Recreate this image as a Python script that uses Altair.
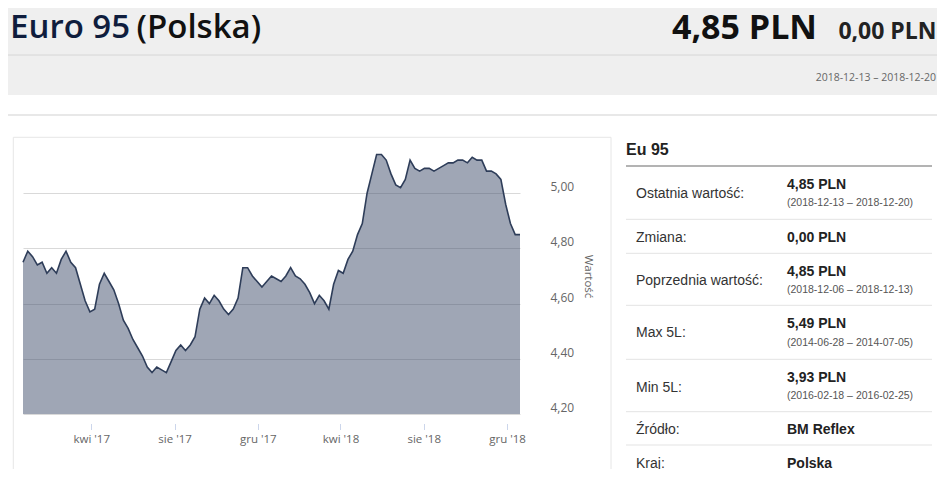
import altair as alt
import pandas as pd

# ---- data ----
prices = [4.75, 4.79, 4.77, 4.74, 4.75, 4.71, 4.73, 4.71, 4.76, 4.79,
          4.75, 4.73, 4.67, 4.61, 4.57, 4.58, 4.67, 4.71, 4.68, 4.65,
          4.60, 4.54, 4.51, 4.47, 4.44, 4.41, 4.37, 4.35, 4.37, 4.36,
          4.35, 4.39, 4.43, 4.45, 4.43, 4.45, 4.48, 4.58, 4.62, 4.60,
          4.63, 4.61, 4.58, 4.56, 4.58, 4.62, 4.73, 4.73, 4.70, 4.68,
          4.66, 4.68, 4.70, 4.69, 4.68, 4.70, 4.73, 4.70, 4.69, 4.67,
          4.64, 4.60, 4.63, 4.61, 4.58, 4.67, 4.72, 4.71, 4.76, 4.79,
          4.85, 4.89, 5.00, 5.07, 5.14, 5.14, 5.12, 5.07, 5.03, 5.02,
          5.05, 5.12, 5.09, 5.08, 5.09, 5.09, 5.08, 5.09, 5.10, 5.11,
          5.11, 5.12, 5.12, 5.11, 5.13, 5.12, 5.12, 5.08, 5.08, 5.07,
          5.05, 4.96, 4.89, 4.85, 4.85]
first_date = "2016-12-22"
last_date = "2018-12-20"
tick_dates = ["2017-04-01", "2017-08-01", "2017-12-01",
              "2018-04-01", "2018-08-01", "2018-12-01"]
y_ticks = [4.2, 4.4, 4.6, 4.8, 5.0]
month_names = ['sty', 'lut', 'mar', 'kwi', 'maj', 'cze',
               'lip', 'sie', 'wrz', 'paź', 'lis', 'gru']

title_main = "Euro 95"
title_country = "(Polska)"
head_price = "4,85 PLN"
head_change = "0,00 PLN"
head_period = "2018-12-13 – 2018-12-20"
panel_title = "Eu 95"
row_labels = ["Ostatnia wartość:", "Zmiana:", "Poprzednia wartość:", "Max 5L:",
              "Min 5L:", "Źródło:", "Kraj:"]
row_values = ["4,85 PLN", "0,00 PLN", "4,85 PLN", "5,49 PLN", "3,93 PLN",
              "BM Reflex", "Polska"]
row_dates = ["(2018-12-13 – 2018-12-20)", "", "(2018-12-06 – 2018-12-13)",
             "(2014-06-28 – 2014-07-05)", "(2016-02-18 – 2016-02-25)", "", ""]

dates = pd.date_range(first_date, periods=len(prices), freq="7D")
df = pd.DataFrame({"date": dates.strftime("%Y-%m-%dT00:00:00"), "value": prices})


def dt(s):
    return alt.DateTime(year=int(s[:4]), month=int(s[5:7]), date=int(s[8:10]))


one = pd.DataFrame({"k": [0]})

# ---- layout (pixels relative to plot origin) ----
row_label_y = [60, 103.7, 147, 199, 253.7, 296.3, 330.3]
row_value_y = [51.3, 103.7, 137.7, 190.3, 243.7, 296.3, 330.3]
row_date_y = [68.3, None, 155, 207.7, 261, None, None]
sep_y = [81.3, 115.3, 167.3, 221.3, 273.7, 307]

SANS = "Liberation Sans"
CH = "Open Sans"


def txt(s, x, y, size, color, weight="normal", font=SANS, align="left"):
    return alt.Chart(one).mark_text(
        align=align, baseline="alphabetic", fontSize=size, font=font,
        fontWeight=weight, color=color
    ).encode(x=alt.value(x), y=alt.value(y), text=alt.value(s))


def hrule(x1, x2, y, color, w=1.0):
    return alt.Chart(one).mark_rule(color=color, strokeWidth=w).encode(
        x=alt.value(x1), x2=alt.value(x2), y=alt.value(y))


def vrule(x, y1, y2, color, w=1.0):
    return alt.Chart(one).mark_rule(color=color, strokeWidth=w).encode(
        x=alt.value(x), y=alt.value(y1), y2=alt.value(y2))


header_bg = alt.Chart(one).mark_rect(color="#efefef").encode(
    x=alt.value(-15), x2=alt.value(914), y=alt.value(-130), y2=alt.value(-43))

month_expr = "[" + ",".join("'%s'" % m for m in month_names) + "]"

x_enc = alt.X(
    "date:T",
    scale=alt.Scale(domain=[dt(first_date), dt(last_date)], nice=False),
    axis=alt.Axis(
        values=[dt(s) for s in tick_dates],
        labelExpr=month_expr + "[month(datum.value)] + \" '\" + timeFormat(datum.value, '%y')",
        title=None, grid=False, domain=False, offset=9.5, tickSize=6,
        tickColor="#ccd6eb", tickWidth=1, labelPadding=3.5, labelFont=CH,
        labelFontSize=11.5, labelColor="#666666", labelFlush=False,
        labelOverlap=False,
    ),
)
y_enc = alt.Y(
    "value:Q",
    scale=alt.Scale(domain=[4.2, 5.2], nice=False, zero=False),
    axis=alt.Axis(
        orient="right", values=y_ticks,
        labelExpr="replace(format(datum.value, '.2f'), '.', ',')",
        title="Wartość", titleAngle=90, titleX=67, titleY=138,
        titleAlign="center", titleBaseline="middle", titleFont=CH,
        titleFontSize=11.5, titleFontWeight="normal", titleColor="#666666",
        grid=True, gridColor="#d9d9d9", gridWidth=1, domain=False,
        ticks=False, tickSize=0, labelPadding=30, labelAlign="left",
        labelBaseline="alphabetic", labelOffset=-2.5, labelFont=CH,
        labelFontSize=12, labelColor="#666666", labelFlush=False,
        labelOverlap=False,
    ),
)

area = alt.Chart(df).mark_area(color="#42516d", fillOpacity=0.51).encode(
    x=x_enc, y=y_enc, y2=alt.datum(4.2))
line = alt.Chart(df).mark_line(color="#2e3d59", strokeWidth=1.6).encode(
    x="date:T", y="value:Q")

layers = [header_bg, area, line]

# header texts and lines
layers += [
    hrule(-15, 914, -83, "#d6d6d6", 1),
    txt(title_main, -13, -99.7, 33, "#0f1d3d", 600, CH),
    txt(title_country, 113.5, -99.7, 33, "#111111", 600, CH),
    txt(head_price, 794, -98.7, 34, "#111111", "bold", CH, "right"),
    txt(head_change, 913.5, -98.7, 23, "#222222", "bold", CH, "right"),
    txt(head_period, 913, -57, 10.5, "#666666", "normal", CH, "right"),
    hrule(-15, 914, -23, "#e8e8e8", 2),
    # chart container border
    hrule(-9.7, 588, -0.7, "#e6e6e6", 1),
    vrule(-9.7, -0.7, 340, "#e6e6e6", 1),
    vrule(588, -0.7, 340, "#e6e6e6", 1),
]

# right panel
layers += [
    txt(panel_title, 603, 17, 16, "#222222", "bold"),
    hrule(603, 909, 28, "#9a9a9a", 1.5),
]
for y in sep_y:
    layers.append(hrule(603, 909, y, "#e3e3e3", 1))
for lab, ly in zip(row_labels, row_label_y):
    layers.append(txt(lab, 613, ly, 14, "#333333"))
for val, vy in zip(row_values, row_value_y):
    layers.append(txt(val, 764, vy, 14, "#222222", "bold"))
for d, dy in zip(row_dates, row_date_y):
    if d and dy is not None:
        layers.append(txt(d, 764, dy, 10.5, "#555555"))

chart = alt.layer(*layers).properties(
    width=497, height=276,
    padding={"left": 15, "top": 130, "right": 417, "bottom": 55},
    autosize=alt.AutoSizeParams(type="none"),
    background="white",
).configure_view(strokeWidth=0)

chart.save("out.html", embed_options={"renderer": "svg", "actions": False})
